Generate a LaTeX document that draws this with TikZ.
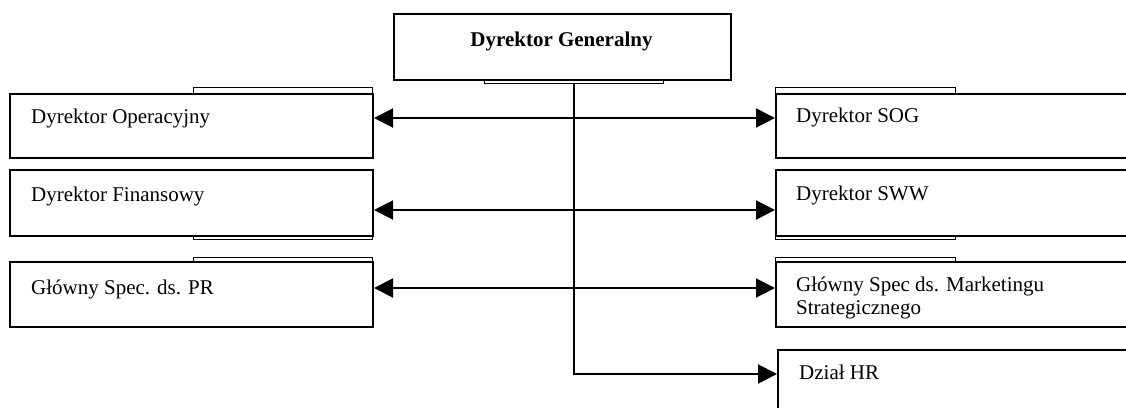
\documentclass[tikz,border=0pt]{standalone}
\usepackage{fontspec}
\setmainfont{Liberation Serif}
\usetikzlibrary{arrows.meta}
\begin{document}
\begin{tikzpicture}[x=1pt,y=-1pt,
  box/.style={draw, line width=2pt, fill=white, inner sep=0pt, anchor=north west},
  backbox/.style={draw, line width=1.3pt, fill=white, inner sep=0pt, anchor=north west},
  lbl/.style={anchor=base west, inner sep=0pt, font=\fontsize{21}{23}\selectfont},
  conn/.style={line width=2pt},
  tip/.style={-{Triangle[length=19pt,width=19pt]}},
  twotips/.style={{Triangle[length=19pt,width=19pt]}-{Triangle[length=19pt,width=19pt]}}]
\useasboundingbox (0,0) rectangle (1126,407);
\clip (0,0) rectangle (1126,407);
\fill[white] (0,0) rectangle (1126,407);
% back boxes
\node[backbox, minimum width=179pt, minimum height=30pt] (genb) at (484,53) {};
\node[backbox, minimum width=179pt, minimum height=64pt] (opLb) at (193,87) {};
\node[backbox, minimum width=179pt, minimum height=66pt] (finLb) at (193,173) {};
\node[backbox, minimum width=179pt, minimum height=64pt] (prLb) at (193,257) {};
\node[backbox, minimum width=180pt, minimum height=64pt] (sogb) at (775,87) {};
\node[backbox, minimum width=180pt, minimum height=66pt] (swwb) at (775,173) {};
\node[backbox, minimum width=180pt, minimum height=64pt] (mktb) at (775,257) {};
% main boxes
\node[box, minimum width=337pt, minimum height=66pt] (gen) at (393,13) {};
\node[box, minimum width=363pt, minimum height=64pt] (opL) at (9,93) {};
\node[box, minimum width=363pt, minimum height=66pt] (finL) at (9,169) {};
\node[box, minimum width=363pt, minimum height=65pt] (prL) at (9,261) {};
\node[box, minimum width=380pt, minimum height=64pt] (sog) at (775,93) {};
\node[box, minimum width=380pt, minimum height=66pt] (sww) at (775,169) {};
\node[box, minimum width=380pt, minimum height=65pt] (mkt) at (775,261) {};
\node[box, minimum width=380pt, minimum height=70pt] (hr) at (777,349) {};
% texts
\node[lbl, anchor=base, font=\fontsize{21}{23}\selectfont\bfseries] (tgen) at (561.5,46) {Dyrektor Generalny};
\node[lbl] (topL) at (31,123) {Dyrektor Operacyjny};
\node[lbl] (tfinL) at (31,201) {Dyrektor Finansowy};
\node[lbl] (tprL) at (31,294) {Główny Spec. ds. PR};
\node[lbl] (tsog) at (796,122) {Dyrektor SOG};
\node[lbl] (tsww) at (796,200) {Dyrektor SWW};
\node[lbl] (tmkt) at (796,291) {Główny Spec ds. Marketingu};
\begin{scope}
\clip (770,296) rectangle (1126,318);
\node[lbl] (tmkt2) at (796,314) {Strategicznego};
\end{scope}
\node[lbl] (thr) at (799,379) {Dział HR};
% connectors
\draw[conn, twotips] ([yshift=8pt]opL.east) -- ([yshift=8pt]sog.west);
\draw[conn, twotips] ([yshift=-7pt]finL.east) -- ([yshift=-7pt]sww.west);
\draw[conn, twotips] ([yshift=6.5pt]prL.east) -- ([yshift=6.5pt]mkt.west);
\draw[conn, tip] (genb.south) |- ([yshift=11pt]hr.west);
\end{tikzpicture}
\end{document}
